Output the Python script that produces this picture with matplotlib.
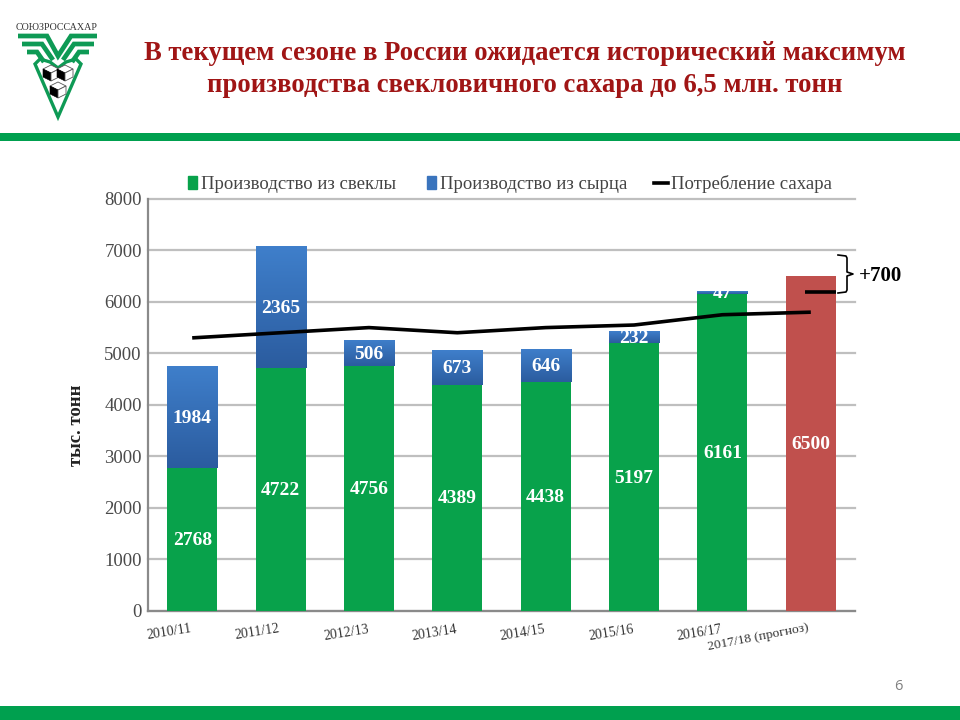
import matplotlib
matplotlib.use("Agg")
import matplotlib.pyplot as plt
import numpy as np
from matplotlib.colors import LinearSegmentedColormap
from matplotlib.patches import Polygon, Rectangle
from matplotlib.lines import Line2D

seasons = ["2010/11", "2011/12", "2012/13", "2013/14", "2014/15", "2015/16", "2016/17", "2017/18 (прогноз)"]
beet = [2768, 4722, 4756, 4389, 4438, 5197, 6161]
raw = [1984, 2365, 506, 673, 646, 232, 47]
forecast = [6500]
consumption = [5300, 5400, 5500, 5400, 5500, 5550, 5750, 5800]
current_consumption = 6200
title_lines = ["В текущем сезоне в России ожидается исторический максимум",
               "производства свекловичного сахара до 6,5 млн. тонн"]

SERIF = "Liberation Serif"
GREEN = "#08A24B"
BLUE = "#3A74BD"
RED = "#C0504D"
W, H = 960, 720

fig = plt.figure(figsize=(9.6, 7.2), dpi=100, facecolor="white")
ax = fig.add_axes([148/W, 1-610.5/H, 707/W, 411.5/H])
x = list(range(len(seasons)))
bw = 0.566
ax.bar(x[:7], beet, bw, color=GREEN, zorder=3)
raw_bars = ax.bar(x[:7], raw, bw, bottom=beet, color=BLUE, zorder=3)
ax.bar(x[7:], forecast, bw, color=RED, zorder=3)
cmap = LinearSegmentedColormap.from_list("blue_grad", ["#2B5C9F", "#3F7FCB"])
grad = np.linspace(1, 0, 64).reshape(-1, 1)
for r in raw_bars:
    im = ax.imshow(grad, cmap=cmap, aspect="auto", zorder=3.5, vmin=0, vmax=1,
                   extent=(r.get_x(), r.get_x()+r.get_width(), r.get_y(), r.get_y()+r.get_height()))
    im.set_clip_path(r)
ax.plot(x, consumption, color="black", lw=2.6, zorder=4, solid_capstyle="butt")
ax.plot([6.93, 7.28], [current_consumption]*2, color="black", lw=2.6, zorder=5, solid_capstyle="butt")
ax.set_xlim(-0.5, 7.5)
ax.set_ylim(0, 8000)
ax.set_yticks(range(0, 8001, 1000))
ax.grid(axis="y", color="#BFBFBF", lw=1.6, zorder=0)
for gl in ax.get_ygridlines():
    gl.set_clip_on(False)
ax.tick_params(length=0)
for side in ("top", "right"):
    ax.spines[side].set_visible(False)
for side in ("left", "bottom"):
    ax.spines[side].set_color("#8A8A8A")
    ax.spines[side].set_linewidth(1.6)
ax.set_xticks([])
for lab in ax.get_yticklabels():
    lab.set_fontfamily(SERIF)
    lab.set_fontsize(13.5)
    lab.set_color("#4A4A4A")
ax.tick_params(axis="y", pad=4.5)
ax.set_ylabel("тыс. тонн", family=SERIF, fontsize=13.5, fontweight="bold", color="#222222")
ax.yaxis.set_label_coords(-0.0885, 0.451)

def lbl(xv, yv, t):
    ax.text(xv, yv, t, ha="center", va="center", color="white", family=SERIF,
            fontsize=14, fontweight="bold", zorder=6)

for i, (b, r) in enumerate(zip(beet, raw)):
    lbl(i, b/2 - 25, str(b))
    lbl(i, b + r/2 - 25, str(r))
lbl(7, forecast[0]/2 - 25, str(forecast[0]))

for i, s in enumerate(seasons[:7]):
    ax.annotate(s, (i, 0), xytext=(-23, -22), textcoords="offset pixels", ha="center", va="center",
                rotation=9, family=SERIF, fontsize=10, color="#333333", annotation_clip=False)
ax.annotate(seasons[7], (7, 0), xytext=(-53, -27), textcoords="offset pixels", ha="center", va="center",
            rotation=11, family=SERIF, fontsize=9.7, color="#333333", annotation_clip=False)

handles = [Rectangle((0, 0), 1, 1, color=GREEN), Rectangle((0, 0), 1, 1, color=BLUE),
           Line2D([], [], color="black", lw=2.6)]
leg = ax.legend(handles, ["Производство из свеклы", "Производство из сырца", "Потребление сахара"],
                loc="center", bbox_to_anchor=(0.512, 1.036), ncol=3, frameon=False, handlelength=0.5,
                handleheight=0.7, columnspacing=1.65, handletextpad=0.2,
                prop={"family": SERIF, "size": 13.5})
_ln = leg.legend_handles[2]
_y = _ln.get_ydata()[0]
_ln.set_data([-3, 6.75], [_y, _y])
for t in leg.get_texts():
    t.set_color("#444444")

ov = fig.add_axes([0, 0, 1, 1], zorder=10)
ov.set_xlim(0, W)
ov.set_ylim(H, 0)
ov.axis("off")
ov.add_patch(Rectangle((0, 133), W, 8, color="#00A04F", lw=0))
ov.add_patch(Rectangle((0, 706), W, 14, color="#00A04F", lw=0))
ov.text(525, 53, title_lines[0], ha="center", va="center", family=SERIF, fontsize=19.2, fontweight="bold", color="#A01515")
ov.text(525, 86, title_lines[1], ha="center", va="center", family=SERIF, fontsize=19.2, fontweight="bold", color="#A01515")
ov.text(898, 687, "6", ha="center", va="center", family="Open Sans", fontsize=10.5, color="#808080")
ov.text(881, 276, "+700", ha="center", va="center", family=SERIF, fontsize=15, fontweight="bold", color="black")
ov.plot([838, 846, 847, 847, 853, 847, 847, 846, 838],
        [255, 256, 258, 272, 274, 276, 290, 292, 293], color="black", lw=1.2)

# logo
LG = "#0E9A55"
ov.text(57, 27, "СОЮЗРОССАХАР", ha="center", va="center", family=SERIF, fontsize=7.2, color="#333333")
c = 58
for xs, ys in [([18, 47, c, 71, 97], [36, 36, 56, 36, 36]),
               ([22, 42, 53], [44, 44, 60]), ([94, 74, 63], [44, 44, 60]),
               ([27, 37, 44], [52, 52, 62]), ([89, 79, 72], [52, 52, 62])]:
    ov.plot(xs, ys, color=LG, lw=3.4, solid_joinstyle="miter", solid_capstyle="butt")
ov.add_patch(Polygon([(35, 64), (40, 59), (50, 62), (c, 68), (66, 62), (76, 59), (81, 64), (c, 117)],
                     facecolor="white", edgecolor=LG, lw=2.4, joinstyle="miter"))

def cube(cx, cy, s=8):
    ov.add_patch(Polygon([(cx, cy-s), (cx+s, cy-s*.5), (cx, cy), (cx-s, cy-s*.5)],
                         facecolor="white", edgecolor="#555555", lw=0.6))
    ov.add_patch(Polygon([(cx-s, cy-s*.5), (cx, cy), (cx, cy+s), (cx-s, cy+s*.5)],
                         facecolor="black", edgecolor="black", lw=0.4))
    ov.add_patch(Polygon([(cx+s, cy-s*.5), (cx, cy), (cx, cy+s), (cx+s, cy+s*.5)],
                         facecolor="white", edgecolor="#555555", lw=0.6))

cube(c-7, 73, 8)
cube(c+7, 73, 8)
cube(c, 90, 8)

fig.savefig("out.png", dpi=100)
